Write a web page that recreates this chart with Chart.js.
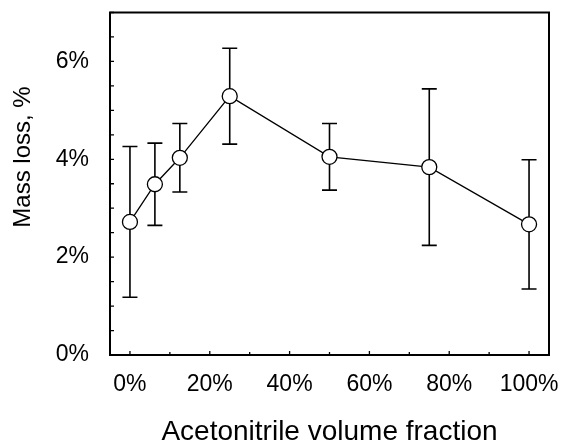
<!DOCTYPE html>
<html>
<head>
<meta charset="utf-8">
<script src="https://cdn.jsdelivr.net/npm/chart.js@4"></script>
<style>
    body { margin: 0; background: #fff; }
</style>
</head>
<body>
<canvas id="myChart" width="563" height="443"></canvas>
<script>
// fração de acetonitrila (%) e perda de massa (%)
const fracoes = [0, 6.25, 12.5, 25, 50, 75, 100];
const perdaMassa = [2.72, 3.49, 4.03, 5.29, 4.05, 3.84, 2.67];
const desvio = [1.54, 0.84, 0.70, 0.98, 0.68, 1.60, 1.32];

// marcas dos eixos
const xMarcas = [0, 10, 20, 30, 40, 50, 60, 70, 80, 90, 100];
const xRotulos = [0, 20, 40, 60, 80, 100];
const yMarcas = [0, 0.5, 1, 1.5, 2, 2.5, 3, 3.5, 4, 4.5, 5, 5.5, 6, 6.5, 7];
const yRotulos = [0, 2, 4, 6];

const fonte = "'Liberation Sans', Arial, sans-serif";

// barras de erro, desenhadas antes da linha e dos pontos
const barrasErro = {
    id: 'barrasErro',
    beforeDatasetsDraw(chart) {
        const { ctx, scales: { x, y } } = chart;
        ctx.save();
        ctx.strokeStyle = '#000';
        ctx.lineWidth = 1.6;
        fracoes.forEach((f, i) => {
            let px = x.getPixelForValue(f);
            let topo = y.getPixelForValue(perdaMassa[i] + desvio[i]);
            let base = y.getPixelForValue(perdaMassa[i] - desvio[i]);
            ctx.beginPath();
            ctx.moveTo(px, topo);
            ctx.lineTo(px, base);
            ctx.moveTo(px - 7.5, topo);
            ctx.lineTo(px + 7.5, topo);
            ctx.moveTo(px - 7.5, base);
            ctx.lineTo(px + 7.5, base);
            ctx.stroke();
        });
        ctx.restore();
    }
};

// moldura, marcas internas e título do eixo y
const moldura = {
    id: 'moldura',
    afterDraw(chart) {
        const { ctx, chartArea: a, scales: { x, y } } = chart;
        ctx.save();
        ctx.strokeStyle = '#000';
        ctx.lineWidth = 1.3;
        ctx.beginPath();
        x.ticks.forEach(t => {
            let px = x.getPixelForValue(t.value);
            let tam = xRotulos.includes(t.value) ? 4 : 3;
            ctx.moveTo(px, a.bottom);
            ctx.lineTo(px, a.bottom - tam);
        });
        y.ticks.forEach(t => {
            let py = y.getPixelForValue(t.value);
            ctx.moveTo(a.left, py);
            ctx.lineTo(a.left + 4, py);
        });
        ctx.stroke();

        ctx.lineWidth = 2;
        ctx.strokeRect(a.left, a.top, a.right - a.left, a.bottom - a.top);

        ctx.translate(23, 157);
        ctx.rotate(-Math.PI / 2);
        ctx.fillStyle = '#000';
        ctx.font = '24px ' + fonte;
        ctx.textAlign = 'center';
        ctx.textBaseline = 'middle';
        ctx.fillText('Mass loss, %', 0, 0);
        ctx.restore();
    }
};

const initGrafico = () => {
    const ctx = document.getElementById('myChart');

    const data = {
        datasets: [{
            data: fracoes.map((f, i) => ({ x: f, y: perdaMassa[i] })),
            borderColor: '#000',
            borderWidth: 1.3,
            pointRadius: 7.5,
            pointBackgroundColor: '#fff',
            pointBorderColor: '#000',
            pointBorderWidth: 1.3,
            tension: 0
        }]
    };

    new Chart(ctx, {
        type: 'line',
        data: data,
        plugins: [barrasErro, moldura],
        options: {
            responsive: false,
            animation: false,
            layout: { padding: { left: 0, right: 14, top: 12.5, bottom: 0 } },
            plugins: { legend: { display: false }, tooltip: { enabled: false } },
            scales: {
                x: {
                    type: 'linear',
                    min: -5,
                    max: 105,
                    afterBuildTicks: s => { s.ticks = xMarcas.map(v => ({ value: v })); },
                    afterFit: s => {
                        s.height = 88;
                        s.paddingLeft = 0;
                        s.paddingRight = 0;
                    },
                    grid: { display: false, drawTicks: false },
                    border: { display: false },
                    ticks: {
                        autoSkip: false,
                        maxRotation: 0,
                        padding: 16,
                        color: '#000',
                        font: { family: fonte, size: 23 },
                        callback: v => xRotulos.includes(v) ? v + '%' : ''
                    },
                    title: {
                        display: true,
                        text: 'Acetonitrile volume fraction',
                        color: '#000',
                        font: { family: fonte, size: 28, lineHeight: 1 },
                        padding: { top: 0, bottom: -3 }
                    }
                },
                y: {
                    min: 0,
                    max: 7,
                    afterBuildTicks: s => { s.ticks = yMarcas.map(v => ({ value: v })); },
                    afterFit: s => {
                        s.width = 110;
                        s.paddingTop = 0;
                        s.paddingBottom = 0;
                    },
                    grid: { display: false, drawTicks: false },
                    border: { display: false },
                    ticks: {
                        autoSkip: false,
                        padding: 21,
                        color: '#000',
                        font: { family: fonte, size: 23 },
                        callback: v => yRotulos.includes(v) ? v + '%' : ''
                    }
                }
            }
        }
    });
};

window.onload = () => initGrafico();
</script>
</body>
</html>
